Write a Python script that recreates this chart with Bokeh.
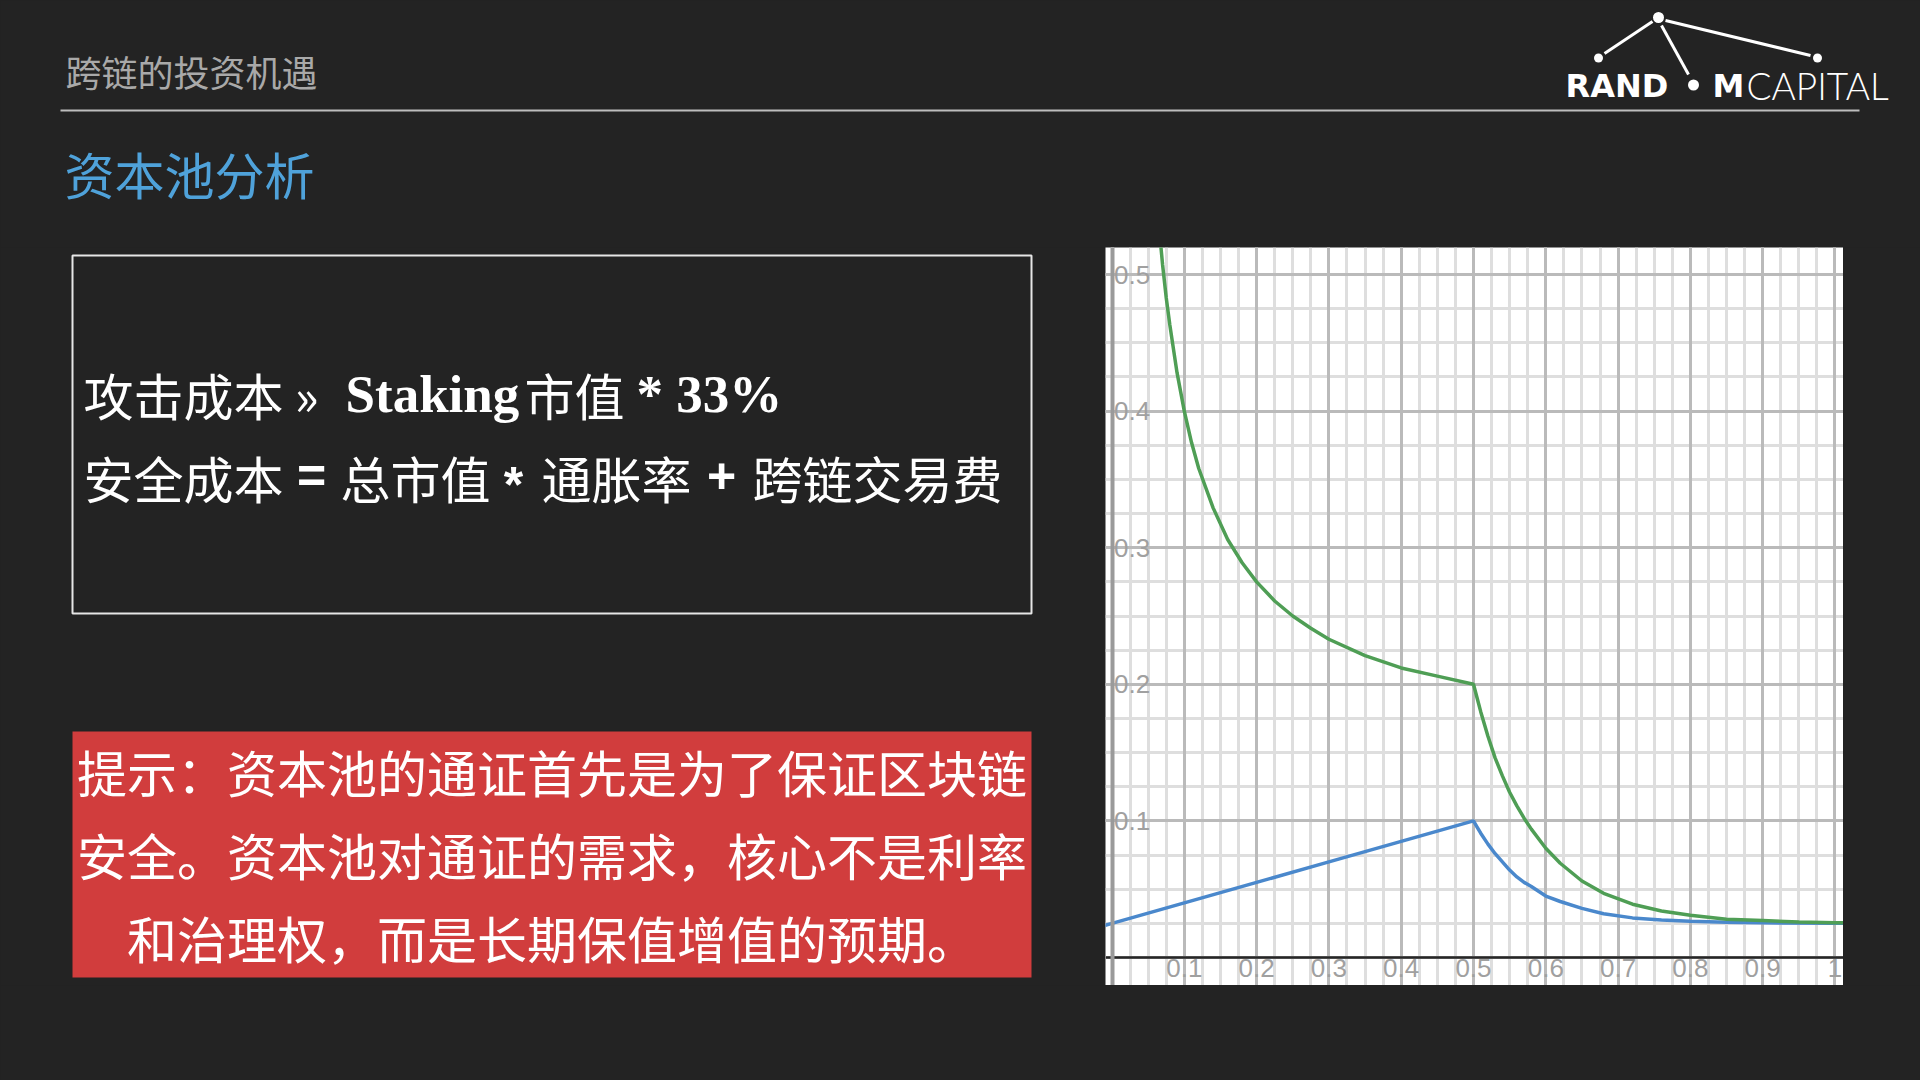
from bokeh.plotting import figure
from bokeh.layouts import column, row
from bokeh.models import Range1d, LinearAxis, FixedTicker, Grid, CustomJSTickFormatter
from bokeh.core.properties import value
from bokeh.core.validation import silence
from bokeh.core.validation.warnings import MISSING_RENDERERS
from bokeh.embed import file_html
from bokeh.resources import INLINE

silence(MISSING_RENDERERS, True)

BG = "#232323"
CJK = value("Noto Sans CJK SC")

# ---------------- data ----------------
x_tick_values = [0.1, 0.2, 0.3, 0.4, 0.5, 0.6, 0.7, 0.8, 0.9, 1.0]
y_tick_values = [0.1, 0.2, 0.3, 0.4, 0.5]

green_x = [0.065, 0.07, 0.075, 0.08, 0.09, 0.10, 0.11, 0.12, 0.14, 0.16, 0.18, 0.20,
           0.225, 0.25, 0.275, 0.30, 0.35, 0.40, 0.45, 0.50, 0.505, 0.51, 0.52, 0.53, 0.54,
           0.55, 0.56, 0.57, 0.58, 0.60, 0.62, 0.65, 0.68, 0.72, 0.76, 0.80, 0.85, 0.90,
           0.95, 1.00, 1.02]
green_y = [0.535, 0.507, 0.483, 0.463, 0.428, 0.400, 0.377, 0.358, 0.329, 0.306, 0.289, 0.275,
           0.261, 0.250, 0.241, 0.233, 0.221, 0.212, 0.206, 0.200, 0.190, 0.180, 0.162, 0.146,
           0.133, 0.121, 0.111, 0.102, 0.094, 0.080, 0.069, 0.056, 0.047, 0.039, 0.034, 0.031,
           0.028, 0.027, 0.026, 0.0255, 0.0255]

blue_x = [-0.02, 0.0, 0.1, 0.2, 0.3, 0.4, 0.5, 0.505, 0.51, 0.52, 0.53, 0.54, 0.55, 0.56,
          0.57, 0.58, 0.60, 0.62, 0.65, 0.68, 0.72, 0.76, 0.80, 0.85, 0.90, 1.00, 1.02]
blue_y = [0.022, 0.025, 0.040, 0.055, 0.070, 0.085, 0.100, 0.0955, 0.091, 0.083, 0.076,
          0.070, 0.064, 0.059, 0.055, 0.052, 0.045, 0.041, 0.036, 0.032, 0.029, 0.0275,
          0.0265, 0.0258, 0.0254, 0.0251, 0.0251]

header_text = "跨链的投资机遇"
title_text = "资本池分析"
tip_lines = ["提示：资本池的通证首先是为了保证区块链",
             "安全。资本池对通证的需求，核心不是利率",
             "和治理权，而是长期保值增值的预期。"]


def base(w, h, xr, yr, bg=BG):
    return figure(width=w, height=h, x_range=Range1d(*xr), y_range=Range1d(*yr),
                  x_axis_type=None, y_axis_type=None, toolbar_location=None,
                  output_backend="svg", min_border=0, outline_line_color=None,
                  background_fill_color=bg, border_fill_color=BG, title=None,
                  styles={"background-color": BG})


def txt(p, x, y, s, font=CJK, size="50px", color="white", align="left", style="normal",
        baseline="middle"):
    p.text(x=[x], y=[y], text=[s], text_font=font, text_font_size=size, text_color=color,
           text_baseline=baseline, text_align=align, text_font_style=style)


# ---------------- header (page y 0..247) ----------------
hd = base(1920, 247, (0, 1920), (247, 0))
txt(hd, 65, 70, header_text, size="36px", color="#a9a9a9")
hd.segment(x0=[60], y0=[110], x1=[1859], y1=[110], line_color="#bdbdbd", line_width=2)
txt(hd, 64, 172, title_text, color="#4fa2da")
# logo
hd.segment(x0=[1652, 1665, 1661], y0=[21, 20, 25], x1=[1604, 1810, 1688], y1=[53, 55, 74],
           line_color="white", line_width=3)
hd.scatter(x=[1658, 1598, 1817, 1693], y=[17, 57.5, 57.5, 84.5], size=[11, 9, 9, 11],
           marker="circle", fill_color="white", line_color=None)
txt(hd, 1565, 85, "RAND", font=value("DejaVu Sans"), size="32px", style="bold",
    baseline="alphabetic")
txt(hd, 1712, 85, "M", font=value("DejaVu Sans"), size="32px", style="bold",
    baseline="alphabetic")
txt(hd, 1746, 85, "CAPITAL", font=value("Lato Light, Lato"), size="37px",
    baseline="alphabetic")

# ---------------- left panel (page x 0..1105, y 247..985) ----------------
lf = base(1105, 738, (0, 1105), (985, 247))
lf.quad(left=[72], right=[1031], top=[255], bottom=[613], fill_color=None,
        line_color="#e6e6e6", line_width=2)
SERIF = value("Liberation Serif")
SANS = value("Liberation Sans")
# line 1
txt(lf, 83, 393, "攻击成本 »")
txt(lf, 345, 393, "Staking", font=SERIF, size="53px", style="bold")
txt(lf, 524, 393, "市值")
txt(lf, 636, 393, "* 33%", font=SERIF, size="53px", style="bold")
# line 2
txt(lf, 83, 476, "安全成本")
txt(lf, 311, 475, "=", font=SANS, size="50px", style="bold", align="center")
txt(lf, 340, 476, "总市值")
txt(lf, 513, 484, "*", font=SANS, size="50px", style="bold", align="center")
txt(lf, 541, 476, "通胀率")
txt(lf, 721, 475, "+", font=SANS, size="50px", style="bold", align="center")
txt(lf, 752, 476, "跨链交易费")

lf.quad(left=[72], right=[1031], top=[731], bottom=[977], fill_color="#d13d3d", line_color=None)
lf.text(x=[551.5] * 3, y=[770, 853, 936], text=tip_lines, text_font=CJK,
        text_font_size="50px", text_color="white", text_baseline="middle", text_align="center")

# ---------------- chart (page x 1105..1843, y 247..985) ----------------
c = base(738, 738, (-0.009, 1.0118), (-0.0205, 0.5198), bg="white")

minor_x = [round(-0.025 + 0.025 * i, 3) for i in range(43)]
minor_y = [round(-0.025 + 0.025 * i, 3) for i in range(23)]
major_x = [0.0] + x_tick_values
major_y = [0.0] + y_tick_values
c.add_layout(Grid(dimension=0, ticker=FixedTicker(ticks=minor_x), grid_line_color="#dedede", grid_line_width=3))
c.add_layout(Grid(dimension=1, ticker=FixedTicker(ticks=minor_y), grid_line_color="#dedede", grid_line_width=3))
c.add_layout(Grid(dimension=0, ticker=FixedTicker(ticks=major_x), grid_line_color="#bababa", grid_line_width=3))
c.add_layout(Grid(dimension=1, ticker=FixedTicker(ticks=major_y), grid_line_color="#bababa", grid_line_width=3))

fmt = CustomJSTickFormatter(code="return tick.toFixed(1).replace(/\\.0$/, '');")
common = dict(formatter=fmt, fixed_location=0, major_tick_in=0, major_tick_out=0,
              minor_tick_in=0, minor_tick_out=0, major_label_standoff=2,
              major_label_text_color="#a0a0a0", major_label_text_font="Liberation Sans",
              major_label_text_font_size="26px")
xa = LinearAxis(ticker=FixedTicker(ticks=x_tick_values), axis_line_color="#262626",
                axis_line_width=2.5, **common)
ya = LinearAxis(ticker=FixedTicker(ticks=y_tick_values), axis_line_color="#9a9a9a",
                axis_line_width=4, **common)
c.add_layout(xa, "below")
c.add_layout(ya, "right")

c.line(blue_x, blue_y, line_color="#4a88cc", line_width=3.5)
c.line(green_x, green_y, line_color="#4f9e55", line_width=3.5)

# ---------------- filler panels ----------------
rt = base(77, 738, (0, 1), (0, 1))
bt = base(1920, 95, (0, 1), (0, 1))

layout = column(hd, row(lf, c, rt, styles={"background-color": BG}), bt,
                styles={"background-color": BG})

open("out.html", "w").write(file_html(layout, INLINE))
